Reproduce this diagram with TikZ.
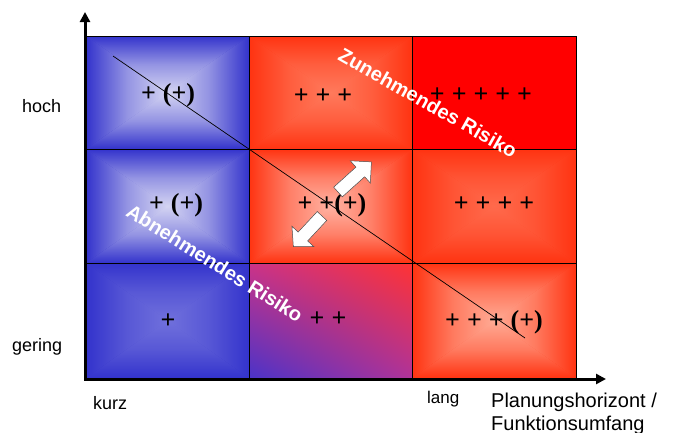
\documentclass[tikz,border=0pt]{standalone}
\usepackage{fontspec}
\setmainfont{Liberation Serif}
\newfontfamily\arial{Liberation Sans}
\usetikzlibrary{arrows.meta,shadings}
\definecolor{bedge}{HTML}{3333CC}
\definecolor{bpale}{HTML}{D4D4F2}
\definecolor{bmid}{HTML}{7070DC}
\definecolor{redge}{HTML}{FF3311}
\definecolor{rtm}{HTML}{FF7A5C}
\definecolor{rmm}{HTML}{FFB2A2}
\definecolor{rmr}{HTML}{FF6A4C}
\definecolor{rbr}{HTML}{FFAA94}
\definecolor{pure}{HTML}{FF0000}
\definecolor{bmll}{HTML}{4A33C8}
\definecolor{bmur}{HTML}{FF3333}
\definecolor{bmul}{HTML}{CC3388}
\definecolor{bmlr}{HTML}{B03399}
\newcommand\widesp{\spaceskip=7pt\relax}
\begin{document}
\begin{tikzpicture}[x=1pt,y=-1pt,
  cell/.style={draw=black, line width=0.6pt, inner sep=0pt, outer sep=0pt},
  pyr/.style 2 args={path picture={
    \path (path picture bounding box.north west) coordinate (pnw)
          (path picture bounding box.north east) coordinate (pne)
          (path picture bounding box.south west) coordinate (psw)
          (path picture bounding box.south east) coordinate (pse)
          (path picture bounding box.center) coordinate (pcc);
    \shade[inner color=#2, outer color=#1] (pnw) rectangle (pse);
    \shade[top color=#1, bottom color=#2, middle color=#2!60!#1] (pnw) -- (pne) -- (pcc) -- cycle;
    \shade[top color=#2, bottom color=#1, middle color=#2!60!#1] (psw) -- (pse) -- (pcc) -- cycle;
    \shade[left color=#1, right color=#2, middle color=#2!60!#1] (pnw) -- (psw) -- (pcc) -- cycle;
    \shade[left color=#2, right color=#1, middle color=#2!60!#1] (pne) -- (pse) -- (pcc) -- cycle;
  }},
  diag/.style={path picture={
    \shade[lower left=bmll, upper right=bmur, upper left=bmul, lower right=bmlr]
      (path picture bounding box.south west) rectangle (path picture bounding box.north east);
  }},
  plus/.style={font=\bfseries\fontsize{26}{26}\selectfont, execute at begin node=\widesp, text height=18pt, text depth=5pt, inner sep=0pt},
  lab/.style={font=\arial\fontsize{18}{18}\selectfont, inner sep=0pt, anchor=base west},
  risk/.style={font=\arial\bfseries\fontsize{20}{20}\selectfont, text=white, inner sep=0pt, anchor=base},
  axis/.style={line width=3pt, line join=miter, {Triangle[width=10pt,length=10pt]}-{Triangle[width=10pt,length=10pt]}},
  barrow/.style={fill=white, draw=black!70, line width=0.5pt}
]
\useasboundingbox (0,0) rectangle (674,432);

% cells
\node[cell, pyr={bedge}{bpale}, minimum width=163pt, minimum height=113pt] (c11) at (167.5,92.5) {};
\node[cell, pyr={redge}{rtm},   minimum width=163pt, minimum height=113pt] (c12) at (330.5,92.5) {};
\node[cell, fill=pure,          minimum width=164pt, minimum height=113pt] (c13) at (494,92.5) {};
\node[cell, pyr={bedge}{bpale}, minimum width=163pt, minimum height=114pt] (c21) at (167.5,206) {};
\node[cell, pyr={redge}{rmm},   minimum width=163pt, minimum height=114pt] (c22) at (330.5,206) {};
\node[cell, pyr={redge}{rmr},   minimum width=164pt, minimum height=114pt] (c23) at (494,206) {};
\node[cell, pyr={bedge}{bmid},  minimum width=163pt, minimum height=115pt] (c31) at (167.5,320.5) {};
\node[cell, diag,               minimum width=163pt, minimum height=115pt] (c32) at (330.5,320.5) {};
\node[cell, pyr={redge}{rbr},   minimum width=164pt, minimum height=115pt] (c33) at (494,320.5) {};

% cell labels
\node[plus] (p11) at (168,95) {+ (+)};
\node[plus] (p12) at (323,97) {+ + +};
\node[plus] (p13) at (481,96) {+ + + + +};
\node[plus] (p21) at (176,205) {+ (+)};
\node[plus] (p22) at (332,205) {+ +(+)};
\node[plus] (p23) at (494,205) {+ + + +};
\node[plus] (p31) at (168,322) {+};
\node[plus] (p32) at (328,320) {+ +};
\node[plus] (p33) at (494,322) {+ + + (+)};

% diagonal
\coordinate (d1) at (113,56);
\coordinate (d2) at (525,338);
\draw[line width=0.7pt] (d1) -- (d2);

% risk texts
\node[risk, rotate=-29.5] (zr) at (424.5,109) {Zunehmendes Risiko};
\node[risk, rotate=-32] (ar) at (211,269) {Abnehmendes Risiko};

% block arrows
\begin{scope}[shift={(338,192)}, rotate=42]
  \draw[barrow] (0,-6.5) -- (30,-6.5) -- (30,-15) -- (45,0) -- (30,15) -- (30,6.5) -- (0,6.5) -- cycle;
\end{scope}
\begin{scope}[shift={(322,216)}, rotate=227]
  \draw[barrow] (0,-6.5) -- (28,-6.5) -- (28,-15) -- (42,0) -- (28,15) -- (28,6.5) -- (0,6.5) -- cycle;
\end{scope}

% axes
\coordinate (o) at (85,379);
\coordinate (ytip) at (85,12);
\coordinate (xtip) at (606,379);
\draw[axis] (ytip) -- (o) -- (xtip);

% axis labels
\node[lab] (hoch) at (22,112) {hoch};
\node[lab] (gering) at (12,351) {gering};
\node[lab] (kurz) at (93,409) {kurz};
\node[lab, font=\arial\fontsize{17}{17}\selectfont] (lang) at (427,403) {lang};
\node[lab, font=\arial\fontsize{20}{20}\selectfont] (ph) at (491,407) {Planungshorizont /};
\node[lab, font=\arial\fontsize{20}{20}\selectfont] (fu) at (491,430) {Funktionsumfang};
\end{tikzpicture}
\end{document}
